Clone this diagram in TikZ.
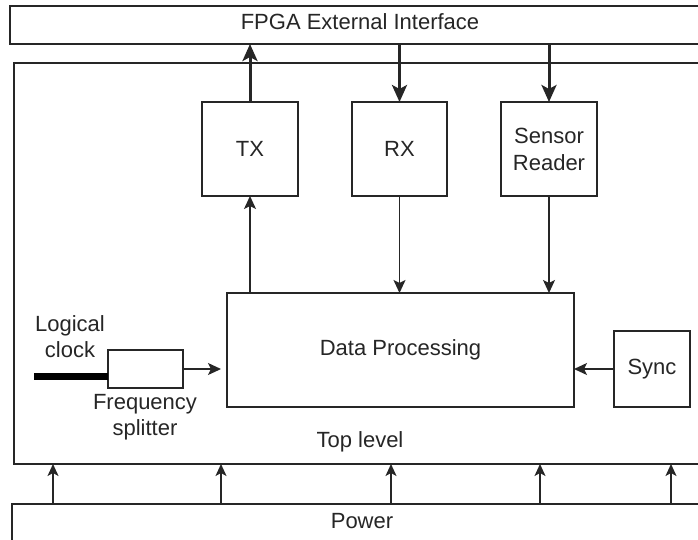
\documentclass[tikz,border=0pt]{standalone}
\usepackage{fontspec}
\setmainfont{Liberation Sans}
\usetikzlibrary{arrows.meta}
\begin{document}
\begin{tikzpicture}[x=1pt,y=-1pt,
  every node/.style={font=\fontsize{22}{27}\selectfont, text=black!85},
  box/.style={draw=black!85, line width=1.5pt, fill=white, rectangle, outer sep=0pt, inner sep=0pt},
  lbl/.style={align=center, inner sep=0pt},
  arr/.style={draw=black!85, line width=1.4pt, -{Stealth[length=13pt,width=12pt,inset=3pt]}},
  bigarr/.style={draw=black!85, line width=3pt, -{Stealth[length=17pt,width=15pt,inset=4pt]}}]
\useasboundingbox (0,0) rectangle (698,539);
\clip (0,0) rectangle (698,539);
\fill[white] (0,0) rectangle (698,539);

% outer bands
\node[box, anchor=north west, minimum width=710pt, minimum height=38pt] (fpga) at (10,6) {};
\node[lbl] (fpgatxt) at (360,22) {FPGA External Interface};
\node[box, anchor=north west, minimum width=706pt, minimum height=401pt] (top) at (14,63) {};
\node[lbl] (toptxt) at (360,442) {Top level};
\node[box, anchor=north west, minimum width=708pt, minimum height=60pt] (power) at (12,504) {};
\node[lbl] (powtxt) at (362,521) {Power};

% inner blocks
\node[box, minimum width=96pt, minimum height=94pt] (tx) at (250,149) {TX};
\node[box, minimum width=95pt, minimum height=94pt] (rx) at (399.5,149) {RX};
\node[box, minimum width=96pt, minimum height=94pt, align=center] (sensor) at (549,149) {Sensor\\Reader};
\node[box, minimum width=347pt, minimum height=114pt] (dp) at (400.5,350) {Data Processing};
\node[box, minimum width=76pt, minimum height=76pt] (sync) at (652,369) {Sync};
\node[box, minimum width=75pt, minimum height=38pt] (fs) at (145.5,369) {};
\node[lbl] (fstxt) at (145,417) {Frequency\\[-1pt]splitter};
\node[lbl] (clktxt) at (70,337) {Logical\\[-1pt]clock};
\coordinate (clk) at (34,376);

% external interface links
\draw[bigarr] (tx.north) -- (tx.north |- fpga.south);
\draw[bigarr] (rx.north |- fpga.south) -- (rx.north);
\draw[bigarr] (sensor.north |- fpga.south) -- (sensor.north);

% internal data paths
\draw[arr] (tx.south |- dp.north) -- (tx.south);
\draw[arr] (rx.south) -- (rx.south |- dp.north);
\draw[arr] (sensor.south) -- (sensor.south |- dp.north);
\draw[arr] (sync.west) -- (sync.west -| dp.east);
\draw[arr, shorten >=6pt] (fs.east) -- (fs.east -| dp.west);

% clock input
\draw[draw=black, line width=7pt] (clk) -- (clk -| fs.west);

% power feeds
\foreach \px/\i in {53/1,221/2,391/3,540/4,671/5}{
  \coordinate (p\i) at (\px,0);
  \draw[arr, -{Stealth[length=12pt,width=11pt,inset=3pt]}] (p\i |- power.north) -- (p\i |- top.south);
}
\end{tikzpicture}
\end{document}
